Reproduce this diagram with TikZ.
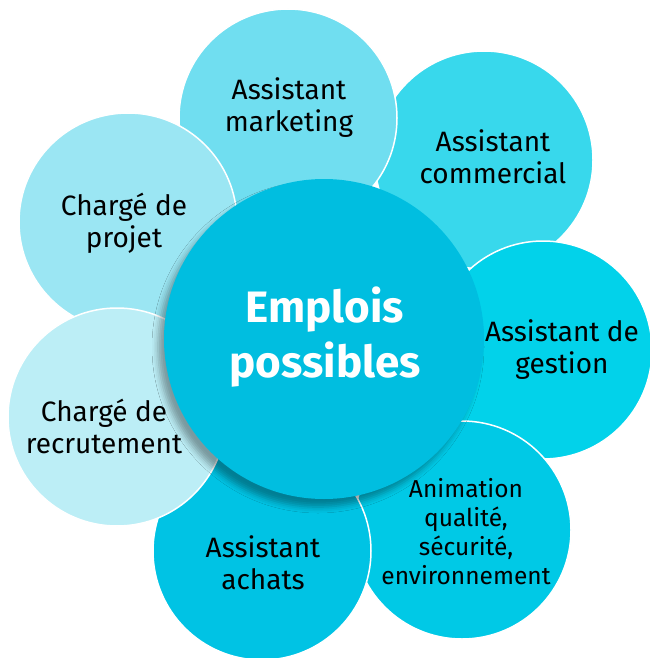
\documentclass[tikz,border=0pt]{standalone}
\usepackage{fontspec}
\setmainfont{Fira Sans}
\usetikzlibrary{shadows.blur}
\definecolor{cMark}{HTML}{70DEF0}
\definecolor{cComm}{HTML}{38D8EC}
\definecolor{cGest}{HTML}{02D2EA}
\definecolor{cAnim}{HTML}{00C9E6}
\definecolor{cAch}{HTML}{00C3E4}
\definecolor{cRecr}{HTML}{BCEEF6}
\definecolor{cProj}{HTML}{9BE6F3}
\definecolor{cCent}{HTML}{00BEE0}
\tikzset{
  petal/.style={circle, draw=white, line width=1.5pt, minimum size=218pt, inner sep=0pt},
  lbl/.style={align=center, font=\fontsize{28}{32}\selectfont, text=black},
  lblsmall/.style={align=center, font=\fontsize{24.5}{29}\selectfont, text=black},
}
\begin{document}
\begin{tikzpicture}[x=1pt,y=-1pt]
\useasboundingbox (0,0) rectangle (649,658);
\node[petal, fill=cComm] (comm) at (484,160) {};
\node[petal, fill=cGest] (gest) at (543,350) {};
\node[petal, fill=cAnim] (anim) at (462,530) {};
\node[petal, fill=cAch] (ach) at (262,551) {};
\node[petal, fill=cMark] (mark) at (288,118) {};
\node[petal, fill=cProj] (proj) at (128,222) {};
\node[petal, fill=cRecr] (recr) at (117,417) {};
\node[circle, fill=cCent, minimum size=320pt, inner sep=0pt,
      blur shadow={shadow xshift=-6pt, shadow yshift=-8pt, shadow blur radius=6pt, shadow opacity=35}] (cent) at (324,339) {};
\node[lbl] (tmark) at (289,108) {Assistant\\marketing};
\node[lbl] (tcomm) at (493,157) {Assistant\\commercial};
\node[lbl] (tproj) at (124,223) {Chargé de\\projet};
\node[lbl] (tgest) at (562,350) {Assistant de\\gestion};
\node[lblsmall] (tanim) at (466,532) {Animation\\qualité,\\sécurité,\\environnement};
\node[lbl] (tach) at (263,563) {Assistant\\achats};
\node[lbl] (trecr) at (104,426) {Chargé de\\recrutement};
\node[align=center, text=white, font=\fontsize{44}{55}\bfseries\selectfont] (tcent) at (325,337) {Emplois\\possibles};
\end{tikzpicture}
\end{document}
